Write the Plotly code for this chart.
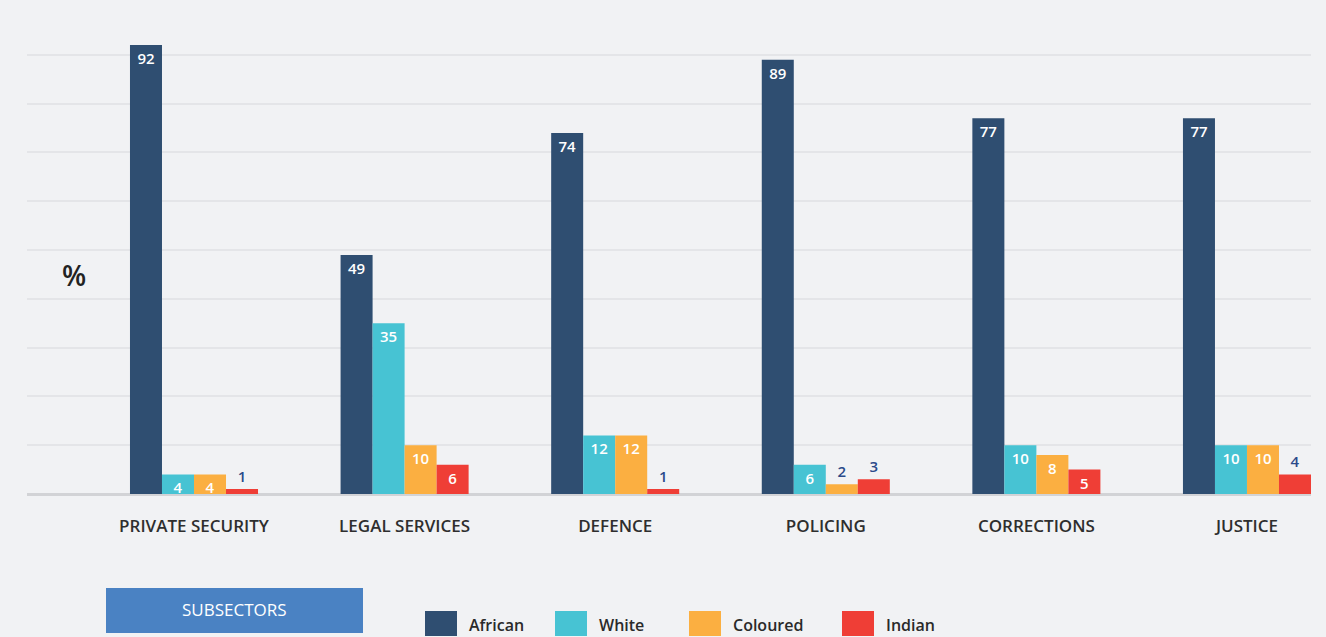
import plotly.graph_objects as go

# Subsector shares by population group (%)
subsectors = ["PRIVATE SECURITY", "LEGAL SERVICES", "DEFENCE", "POLICING", "CORRECTIONS", "JUSTICE"]
groups = ["African", "White", "Coloured", "Indian"]
african = [92, 49, 74, 89, 77, 77]
white = [4, 35, 12, 6, 10, 10]
coloured = [4, 10, 12, 2, 8, 10]
indian = [1, 6, 1, 3, 5, 4]

series = [african, white, coloured, indian]
colors = ["#2f4e71", "#47c3d3", "#fbaf41", "#ef3e36"]
# smallest value whose label is printed inside the bar, per series
inside_min = [4, 4, 4, 5]

W, H = 1326, 637
M_L, M_R, M_T, M_B = 27, 15, 6, 143
PW, PH = W - M_L - M_R, H - M_T - M_B


def px_x(x):
    return (x - M_L) / PW


def px_y(y):
    return (H - M_B - y) / PH


fig = go.Figure()
for name, vals, col, lim in zip(groups, series, colors, inside_min):
    fig.add_trace(go.Bar(
        name=name,
        x=subsectors,
        y=vals,
        marker=dict(color=col, line=dict(width=0)),
        text=[str(v) for v in vals],
        textposition=["outside" if v < lim else "inside" for v in vals],
        insidetextanchor="end",
        constraintext="none",
        insidetextfont=dict(color="white", size=15, family="Open Sans", weight=600),
        outsidetextfont=dict(color="#2b4a8a", size=15, family="Open Sans", weight=600),
        textangle=0,
        cliponaxis=False,
        showlegend=False,
    ))

fig.update_layout(
    width=W,
    height=H,
    margin=dict(l=M_L, r=M_R, t=M_T, b=M_B),
    paper_bgcolor="#f1f2f4",
    plot_bgcolor="#f1f2f4",
    barmode="group",
    bargap=0.392,
    bargroupgap=0,
    font=dict(family="Open Sans", color="#333333"),
)

fig.update_xaxes(
    type="category",
    range=[-0.793, 5.304],
    showgrid=False,
    showline=False,
    ticks="",
    ticklabelstandoff=20,
    tickfont=dict(size=17, color="#2e2e2e", family="Open Sans", weight=600),
)
fig.update_yaxes(
    range=[0, 100],
    dtick=10,
    showticklabels=False,
    showgrid=True,
    gridcolor="#e4e5e8",
    gridwidth=2,
    zeroline=True,
    zerolinecolor="#d2d3d6",
    zerolinewidth=3,
)

# Axis unit label
fig.add_annotation(
    x=px_x(74), y=px_y(275), xref="paper", yref="paper",
    xanchor="center", yanchor="middle",
    text="%", showarrow=False,
    font=dict(size=28, color="#222222", family="Open Sans", weight=600),
)

# Subsectors tag
fig.add_shape(
    type="rect", xref="paper", yref="paper",
    x0=px_x(106), x1=px_x(363), y0=px_y(633), y1=px_y(588),
    fillcolor="#4a82c3", line=dict(width=0), layer="above",
)
fig.add_annotation(
    x=px_x(234.5), y=px_y(609), xref="paper", yref="paper",
    xanchor="center", yanchor="middle",
    text="SUBSECTORS", showarrow=False,
    font=dict(size=17, color="white", family="Open Sans", weight=500),
)

# Legend: swatches with group names
swatch_left = [425, 555, 689, 842]
for name, col, sx in zip(groups, colors, swatch_left):
    fig.add_shape(
        type="rect", xref="paper", yref="paper",
        x0=px_x(sx), x1=px_x(sx + 32), y0=px_y(636), y1=px_y(611),
        fillcolor=col, line=dict(width=0), layer="above",
    )
    fig.add_annotation(
        x=px_x(sx + 42), y=px_y(625), xref="paper", yref="paper",
        xanchor="left", yanchor="middle",
        text=name, showarrow=False,
        font=dict(size=16, color="#2a2a2a", family="Open Sans", weight=600),
    )

fig.write_html("out.html")
